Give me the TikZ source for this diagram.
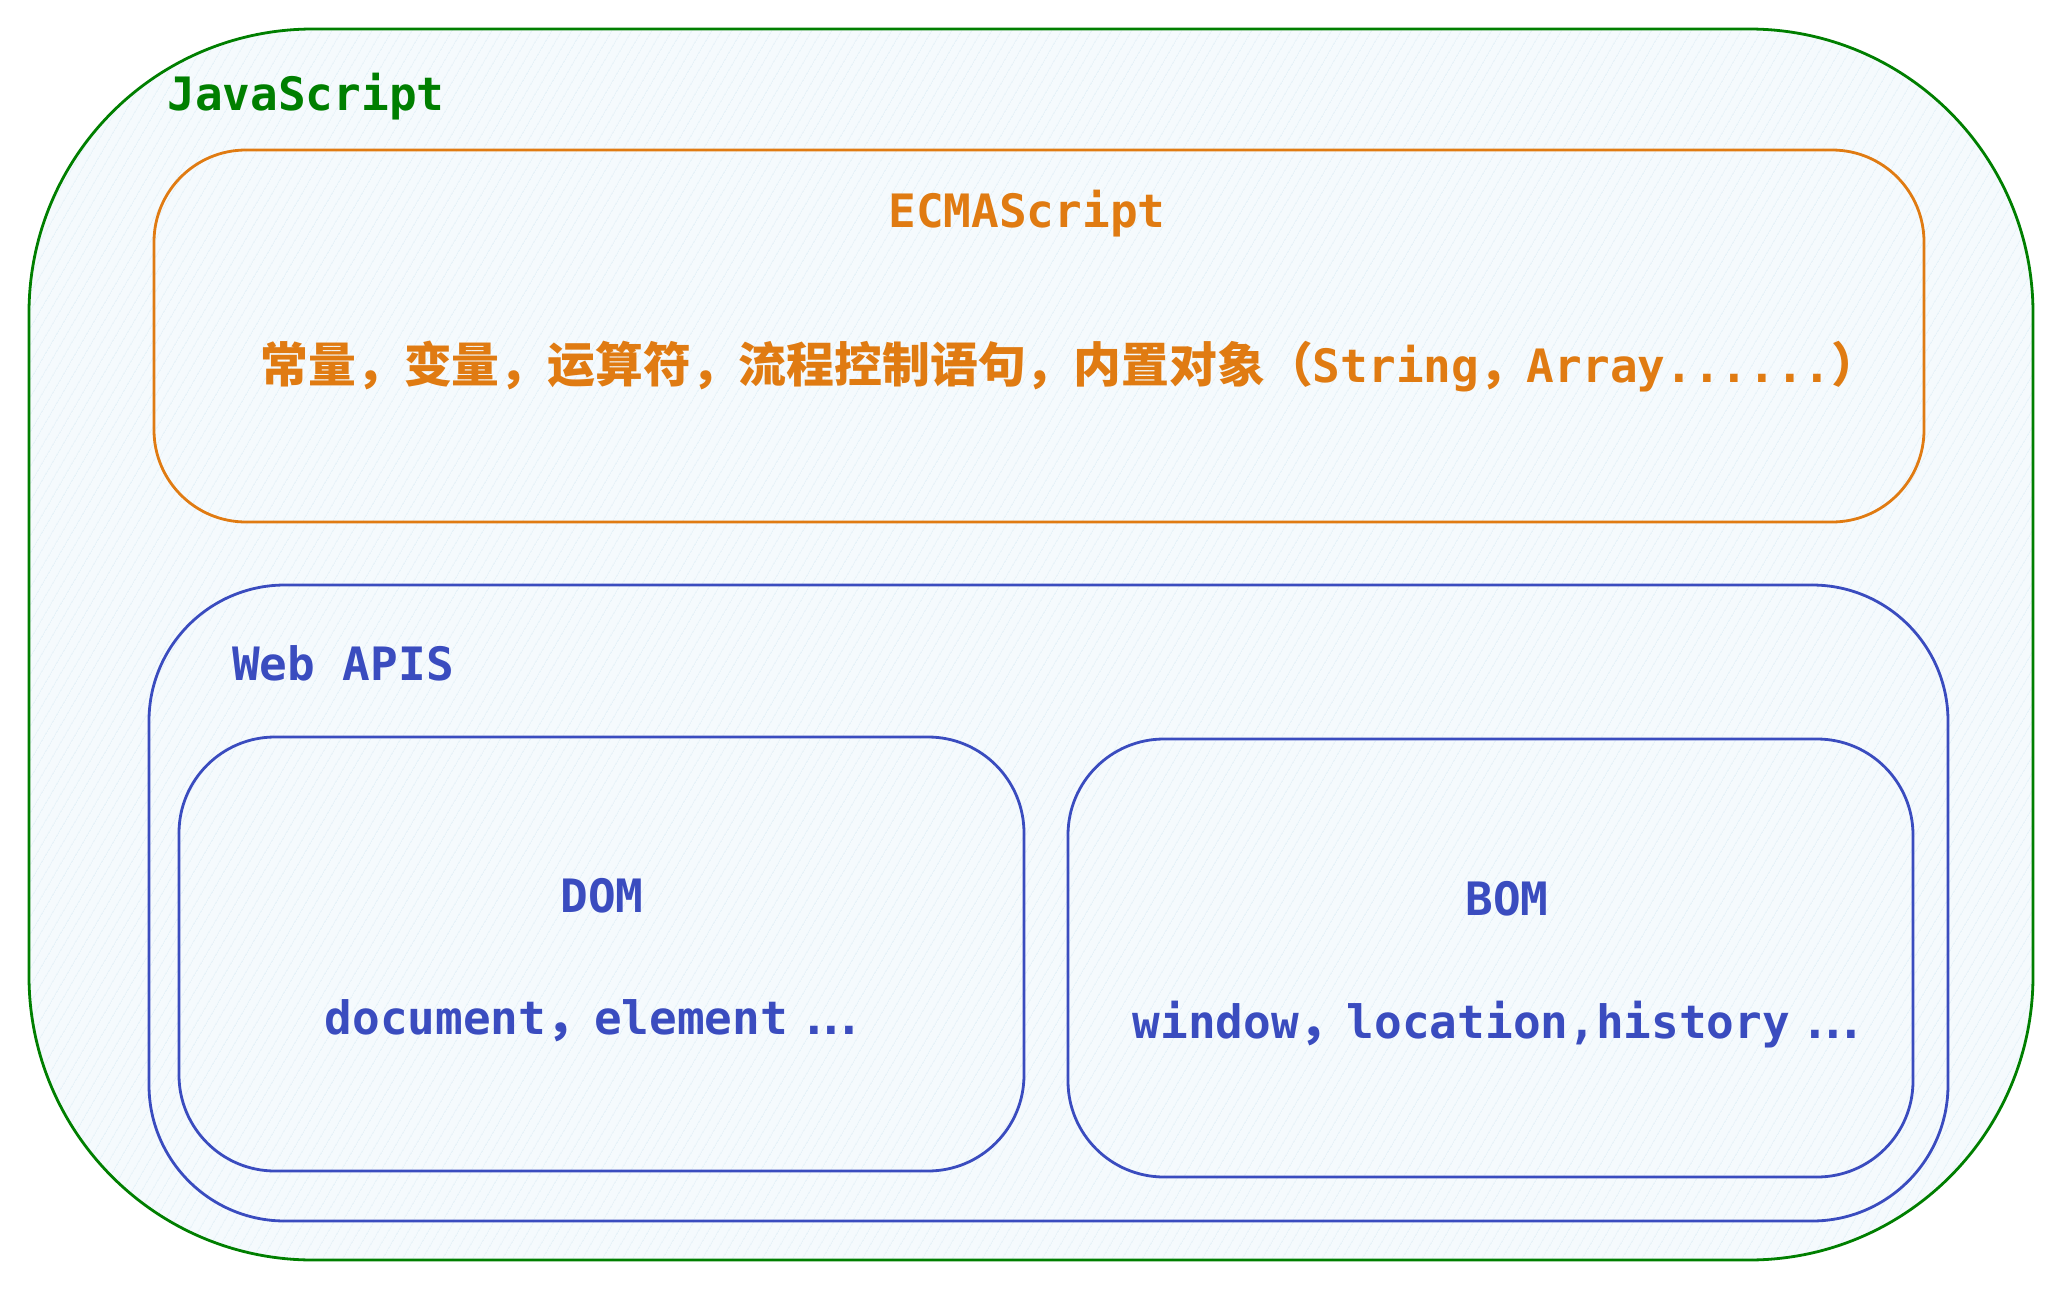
\documentclass[tikz,border=0pt]{standalone}
\usepackage{fontspec}
\setmonofont{DejaVu Sans Mono}
\newfontfamily\cjk{Noto Sans CJK SC}[Scale=1.04]
\usetikzlibrary{
    positioning,
    patterns.meta
}
\definecolor{jscol}{HTML}{007F00}
\definecolor{ecmacol}{HTML}{E07B12}
\definecolor{webcol}{HTML}{3A4CBF}
\definecolor{paperfill}{HTML}{F5FAFD}
\definecolor{hatchcol}{HTML}{E4F1F8}
\newcommand{\tightdots}{\kern6pt.\kern-5pt.\kern-5pt.}

\begin{document}
\begin{tikzpicture}[
    x=0.5pt, y=-0.5pt,
    font=\ttfamily\bfseries\fontsize{23}{28}\selectfont,
    % -- Box Styles --
    area/.style={
        line width=1.4pt,
        preaction={fill=paperfill},
        preaction={pattern={Lines[angle=60, distance=4pt, line width=0.5pt]},
                   pattern color=hatchcol},
        inner sep=0pt
    },
    jsbox/.style={area, draw=jscol, rounded corners=142pt},
    ecmabox/.style={area, draw=ecmacol, rounded corners=46pt},
    webbox/.style={area, draw=webcol, rounded corners=68pt},
    subbox/.style={area, draw=webcol, rounded corners=48pt},
    % -- Label Styles --
    jslab/.style={text=jscol, inner sep=0pt},
    ecmalab/.style={text=ecmacol, inner sep=0pt},
    weblab/.style={text=webcol, inner sep=0pt},
]

\useasboundingbox (0,0) rectangle (2063,1290);

% --------------------------------
%  JAVASCRIPT (outer frame)
% --------------------------------
\node[jsbox, minimum width=1002pt, minimum height=615.5pt] (js) at (1031, 644.5) {};
\node[jslab] (jst) at (306, 97) {JavaScript};

% --------------------------------
%  ECMASCRIPT
% --------------------------------
\node[ecmabox, minimum width=885pt, minimum height=186pt] (ecma) at (1039, 336) {};
\node[ecmalab] (ecmat) at (1027, 214) {ECMAScript};
\node[ecmalab] (ecmad) at (1070, 366) {%
    {\cjk 常量，变量，运算符，流程控制语句，内置对象（}String{\cjk ，}Array......{\cjk ）}};

% --------------------------------
%  WEB APIS
% --------------------------------
\node[webbox, minimum width=899.5pt, minimum height=318pt] (web) at (1048.5, 903) {};
\node[weblab] (webt) at (343, 663) {Web APIS};

% -- DOM --
\node[subbox, minimum width=422.5pt, minimum height=217pt] (dom) at (601.5, 954) {};
\node[weblab] (domt) at (602, 896) {DOM};
\node[weblab] (domd) at (594, 1021) {document{\cjk ，}element\tightdots};

% -- BOM --
\node[subbox, minimum width=422.5pt, minimum height=219pt] (bom) at (1490.5, 958) {};
\node[weblab] (bomt) at (1507, 899) {BOM};
\node[weblab] (bomd) at (1499, 1025) {window{\cjk ，}location,history\tightdots};

\end{tikzpicture}
\end{document}
